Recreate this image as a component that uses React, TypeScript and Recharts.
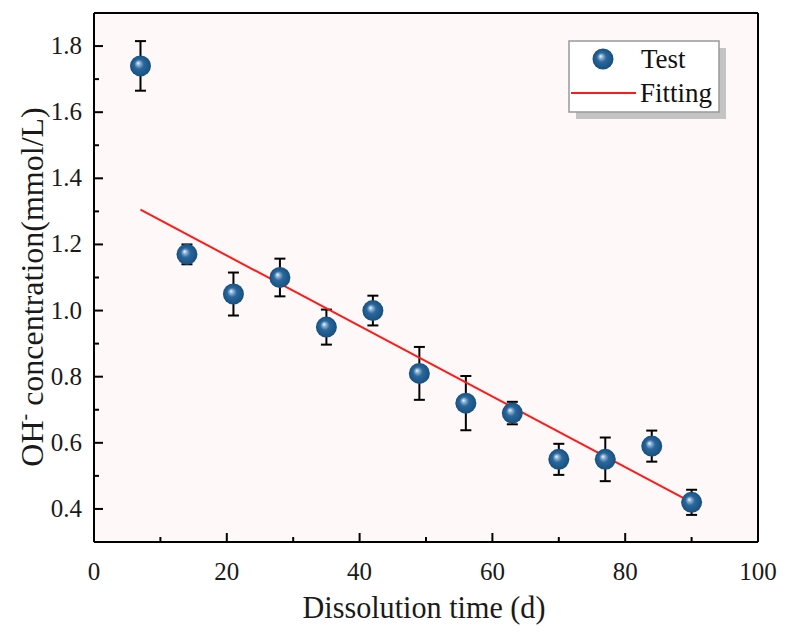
import React from 'react';
import {
  ScatterChart, Scatter, XAxis, YAxis, ErrorBar, CartesianGrid, ReferenceLine,
} from 'recharts';

document.body.style.margin = '0';

const days = [7, 14, 21, 28, 35, 42, 49, 56, 63, 70, 77, 84, 90];
const ohConc = [1.74, 1.17, 1.05, 1.10, 0.95, 1.00, 0.81, 0.72, 0.69, 0.55, 0.55, 0.59, 0.42];
const ohErr = [0.075, 0.03, 0.065, 0.057, 0.053, 0.045, 0.08, 0.082, 0.034, 0.047, 0.066, 0.047, 0.038];

const fitDays = [7, 90];
const fitConc = [1.305, 0.42];

const xTicks = [0, 10, 20, 30, 40, 50, 60, 70, 80, 90, 100];
const xMajor = [0, 20, 40, 60, 80, 100];
const yTicks = [0.4, 0.5, 0.6, 0.7, 0.8, 0.9, 1.0, 1.1, 1.2, 1.3, 1.4, 1.5, 1.6, 1.7, 1.8];
const yMajor = [0.4, 0.6, 0.8, 1.0, 1.2, 1.4, 1.6, 1.8];

const testData = days.map((d, i) => ({ x: d, y: ohConc[i], err: ohErr[i] }));
const fitData = fitDays.map((d, i) => ({ x: d, y: fitConc[i] }));

const FONT = '"Liberation Serif", "Times New Roman", serif';
const isMajor = (list: number[], v: number) => list.some((t) => Math.abs(t - v) < 1e-6);

const Ball = ({ cx, cy, r = 10.5 }: any) => (
  <circle cx={cx} cy={cy} r={r} fill="url(#ballGrad)" />
);

const XTick = ({ x, y, payload }: any) => {
  const major = isMajor(xMajor, payload.value);
  return (
    <g>
      <line x1={x} y1={y} x2={x} y2={y - (major ? 9 : 5)} stroke="#000" strokeWidth={2} />
      {major && (
        <text x={x} y={y + 38} textAnchor="middle" fontFamily={FONT} fontSize={25} fill="#1a1a1a">
          {payload.value}
        </text>
      )}
    </g>
  );
};

const YTick = ({ x, y, payload }: any) => {
  const major = isMajor(yMajor, payload.value);
  return (
    <g>
      <line x1={x} y1={y} x2={x + (major ? 9 : 5)} y2={y} stroke="#000" strokeWidth={2} />
      {major && (
        <text x={x - 12} y={y + 8} textAnchor="end" fontFamily={FONT} fontSize={25} fill="#1a1a1a">
          {payload.value.toFixed(1)}
        </text>
      )}
    </g>
  );
};

const XTitle = () => (
  <text x={424} y={618} textAnchor="middle" fontFamily={FONT} fontSize={32} fill="#1a1a1a"
    textLength={243} lengthAdjust="spacingAndGlyphs">
    Dissolution time (d)
  </text>
);

const YTitle = () => (
  <text transform="translate(43,287) rotate(-90)" x={0} y={0} textAnchor="middle"
    fontFamily={FONT} fontSize={32} fill="#1a1a1a">
    OH<tspan dy={-12} fontSize={20}>-</tspan><tspan dy={12}> concentration(mmol/L)</tspan>
  </text>
);

const LegendBox = () => (
  <svg width={160} height={82} style={{ position: 'absolute', left: 568, top: 40 }}>
    <rect x={8} y={8} width={150} height={71} fill="#c4c4c4" />
    <rect x={1} y={1} width={150} height={71} fill="#fff" stroke="#999" strokeWidth={1.5} />
    <circle cx={35} cy={19} r={10.5} fill="url(#ballGrad)" />
    <text x={73} y={28} fontFamily={FONT} fontSize={27} fill="#111">Test</text>
    <line x1={3} y1={53} x2={68} y2={53} stroke="#ff1a1a" strokeWidth={2} />
    <text x={72} y={62} fontFamily={FONT} fontSize={27} fill="#111">Fitting</text>
  </svg>
);

export default function App() {
  return (
    <div style={{ width: 787, height: 640, background: '#fff', position: 'relative' }}>
      <svg width={0} height={0} style={{ position: 'absolute' }}>
        <defs>
          <radialGradient id="ballGrad" cx="0.5" cy="0.5" r="0.5" fx="0.38" fy="0.36">
            <stop offset="0" stopColor="#f4f8fc" />
            <stop offset="0.18" stopColor="#8fb3d6" />
            <stop offset="0.45" stopColor="#2a679c" />
            <stop offset="1" stopColor="#17507f" />
          </radialGradient>
        </defs>
      </svg>
      <ScatterChart width={787} height={640} margin={{ top: 13, right: 29, bottom: 0, left: 0 }}>
        <CartesianGrid fill="#fff8f8" horizontal={false} vertical={false} />
        <XAxis
          type="number" dataKey="x" domain={[0, 100]} ticks={xTicks} interval={0}
          tickSize={0} tickMargin={0} tick={<XTick />} height={98}
          axisLine={{ stroke: '#000', strokeWidth: 2 }}
          label={<XTitle />}
        />
        <YAxis
          type="number" dataKey="y" domain={[0.3, 1.9]} ticks={yTicks} interval={0}
          tickSize={0} tickMargin={0} tick={<YTick />} width={94}
          axisLine={{ stroke: '#000', strokeWidth: 2 }}
          label={<YTitle />}
        />
        <ReferenceLine x={100} stroke="#000" strokeWidth={2} />
        <ReferenceLine y={1.9} stroke="#000" strokeWidth={2} />
        <Scatter
          name="Fitting" data={fitData} line={{ stroke: '#ff1a1a', strokeWidth: 2 }}
          shape={() => <g />} isAnimationActive={false}
        />
        <Scatter name="Test" data={testData} shape={<Ball />} isAnimationActive={false}>
          <ErrorBar dataKey="err" direction="y" width={5.5} stroke="#000" strokeWidth={2} isAnimationActive={false} />
        </Scatter>
      </ScatterChart>
      <LegendBox />
    </div>
  );
}
